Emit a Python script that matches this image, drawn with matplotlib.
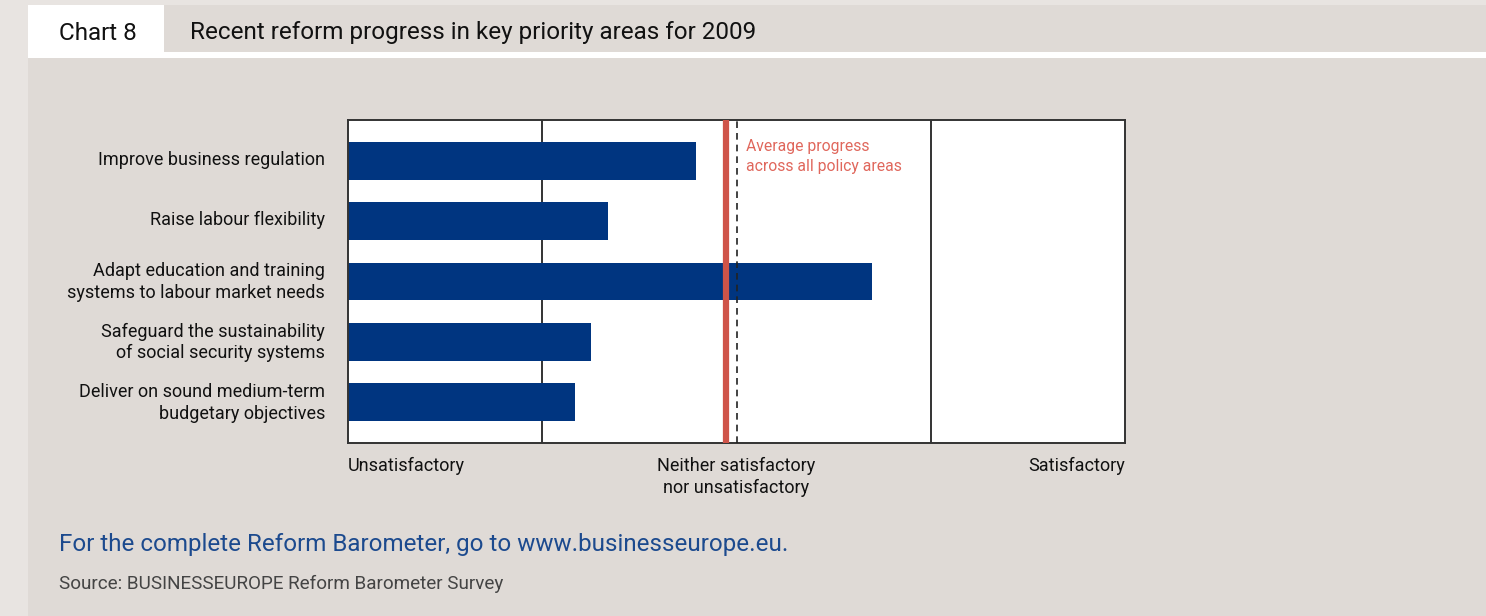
import matplotlib
matplotlib.use("Agg")
import matplotlib.pyplot as plt
from matplotlib.patches import Rectangle
import matplotlib.transforms as mtransforms

plt.rcParams['font.family'] = ['Roboto', 'DejaVu Sans']

categories = [
    "Improve business regulation",
    "Raise labour flexibility",
    "Adapt education and training\nsystems to labour market needs",
    "Safeguard the sustainability\nof social security systems",
    "Deliver on sound medium-term\nbudgetary objectives",
]
values = [1.79, 1.34, 2.70, 1.25, 1.17]
average_progress = 1.946
scale_labels = ["Unsatisfactory", "Neither satisfactory\nnor unsatisfactory", "Satisfactory"]
scale_positions = [0, 2, 4]

W, H = 1486, 616
fig = plt.figure(figsize=(W / 100, H / 100), dpi=100)
fig.patch.set_facecolor('#e8e4e1')

def px_rect(x0, y0, x1, y1, color):
    fig.patches.append(Rectangle((x0 / W, 1 - y1 / H), (x1 - x0) / W, (y1 - y0) / H,
                                 transform=fig.transFigure, facecolor=color,
                                 edgecolor='none', zorder=-10))

PANEL = '#dfdad6'
px_rect(28, 58, W, H, PANEL)
px_rect(28, 52, W, 58, 'white')
px_rect(164, 5, W, 52, PANEL)
px_rect(28, 5, 164, 58, 'white')

fig.text(59 / W, 1 - 33 / H, "Chart 8", fontsize=17.5, color='#111111', va='center', ha='left')
fig.text(190 / W, 1 - 33 / H, "Recent reform progress in key priority areas for 2009",
         fontsize=17.5, color='#111111', va='center', ha='left')

ax = fig.add_axes([348 / W, 1 - 443 / H, (1125 - 348) / W, (443 - 120) / H])
ax.set_facecolor('white')
ypos = list(range(len(categories)))
ax.barh(ypos, values, height=0.63, color='#003580', zorder=2)
ax.set_xlim(0, 4)
ax.set_ylim(len(categories) - 0.32, -0.68)
for xv in (1, 3):
    ax.axvline(xv, color='#333333', lw=1.4, zorder=1)
ax.axvline(2, color='#222222', lw=1.2, ls=(0, (4, 3)), zorder=3)
ax.axvline(average_progress, color='#cf5449', lw=4.5, zorder=4)
ax.text(average_progress + 0.105, 0.94, "Average progress\nacross all policy areas",
        transform=mtransforms.blended_transform_factory(ax.transData, ax.transAxes),
        color='#e0675c', fontsize=11.3, va='top', ha='left', linespacing=1.35)

for s in ax.spines.values():
    s.set_color('#333333')
    s.set_linewidth(1.4)
ax.set_xticks([])
ax.set_yticks(ypos)
ax.set_yticklabels(categories, fontsize=13, color='#111111', linespacing=1.25)
ax.tick_params(axis='y', length=0, pad=16.5)
shift = mtransforms.ScaledTranslation(0, 3 / 100, fig.dpi_scale_trans)
for lbl in ax.get_yticklabels():
    lbl.set_ha('right')
    lbl.set_multialignment('right')
    lbl.set_transform(lbl.get_transform() + shift)

trans = mtransforms.blended_transform_factory(ax.transData, fig.transFigure)
has = ['left', 'center', 'right']
for lbl, xp, ha in zip(scale_labels, scale_positions, has):
    ax.text(xp, 1 - 457 / H, lbl, transform=trans, ha=ha, va='top', fontsize=13,
            color='#111111', linespacing=1.25, multialignment='center')

fig.text(59 / W, 1 - 545 / H, "For the complete Reform Barometer, go to www.businesseurope.eu.",
         fontsize=17.4, color='#1c4a8e', va='center', ha='left')
fig.text(59 / W, 1 - 584 / H, "Source: BUSINESSEUROPE Reform Barometer Survey",
         fontsize=13.6, color='#444444', va='center', ha='left')

fig.savefig('out.png', dpi=100, facecolor=fig.get_facecolor())
